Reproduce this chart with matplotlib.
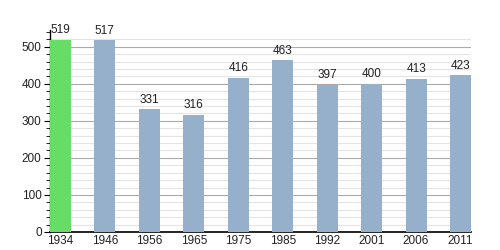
import matplotlib
matplotlib.use("Agg")
import matplotlib.pyplot as plt
import numpy as np
from matplotlib.ticker import MultipleLocator

plt.rcParams['font.family'] = ['Liberation Sans', 'DejaVu Sans']

# données
years = ['1934', '1946', '1956', '1965', '1975', '1985', '1992', '2001', '2006', '2011']
population = [519, 517, 331, 316, 416, 463, 397, 400, 413, 423]
colors = ['#66dd66'] + ['#96b0cc'] * 9

fig = plt.figure(figsize=(5, 2.5), dpi=100)
ax = fig.add_axes([0.1, 0.072, 0.842, 0.808])

x = np.arange(len(years))
ax.bar(x, population, width=0.47, color=colors, zorder=3)
for xi, v in zip(x, population):
    ax.text(xi, v + 10, str(v), ha='center', va='bottom', fontsize=8.5, color='#222222', zorder=4)

ax.set_xlim(-0.235, 9.235)
ax.set_ylim(0, 545)
ax.set_xticks(x)
ax.set_xticklabels(years)
ax.yaxis.set_major_locator(MultipleLocator(100))
ax.yaxis.set_minor_locator(MultipleLocator(20))

# grille
for v in range(20, 540, 20):
    if v % 100 == 0:
        ax.axhline(v, color='#aaaaaa', lw=0.8, zorder=1)
    else:
        ax.axhline(v, color='#e4e4e4', lw=0.8, zorder=1)

for s in ['top', 'right']:
    ax.spines[s].set_visible(False)
ax.spines['left'].set_linewidth(1)
ax.spines['bottom'].set_linewidth(1.2)
ax.tick_params(axis='y', which='major', length=4, labelsize=8.5, pad=2, labelcolor='#222222')
ax.tick_params(axis='y', which='minor', length=3)
ax.tick_params(axis='x', length=0, labelsize=8.5, pad=2, labelcolor='#222222')

plt.savefig('out.png', dpi=100)
